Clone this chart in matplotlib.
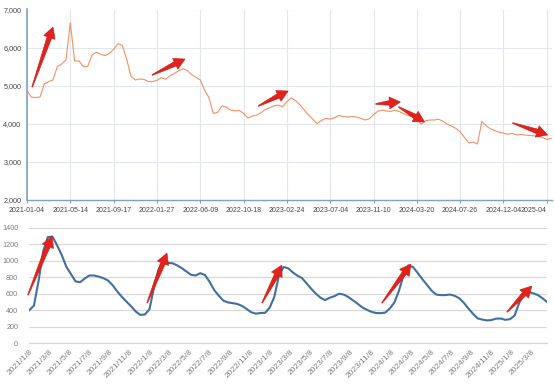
import numpy as np
import pandas as pd
import matplotlib
matplotlib.use("Agg")
import matplotlib.pyplot as plt
import matplotlib.dates as mdates
from matplotlib.patches import Polygon
from matplotlib.transforms import IdentityTransform

# top panel: price, one value every ~8-9 trading days, tick label every 10 points
price_ticks = ['2021-01-04', '2021-05-14', '2021-09-17', '2022-01-27', '2022-06-09',
               '2022-10-18', '2023-02-24', '2023-07-04', '2023-11-10', '2024-03-20',
               '2024-07-26', '2024-12-04', '2025-04']
price = [4870, 4700, 4690, 4700, 5050, 5105, 5150, 5500, 5570, 5675,
         6650, 5650, 5650, 5500, 5500, 5805, 5880, 5825, 5790, 5850,
         5955, 6100, 6060, 5700, 5250, 5150, 5175, 5165, 5110, 5105,
         5140, 5210, 5170, 5260, 5320, 5390, 5445, 5400, 5290, 5220,
         5150, 4880, 4690, 4275, 4300, 4470, 4440, 4360, 4340, 4350,
         4275, 4150, 4200, 4225, 4290, 4375, 4420, 4470, 4490, 4450,
         4580, 4680, 4610, 4500, 4360, 4230, 4120, 4005, 4090, 4140,
         4125, 4160, 4220, 4190, 4180, 4190, 4180, 4145, 4100, 4130,
         4240, 4330, 4360, 4335, 4325, 4360, 4320, 4260, 4220, 4185,
         4120, 3990, 4080, 4100, 4100, 4120, 4070, 3990, 3940, 3880,
         3790, 3640, 3500, 3520, 3470, 4060, 3950, 3865, 3820, 3780,
         3755, 3725, 3750, 3710, 3720, 3705, 3695, 3685, 3675, 3640,
         3590, 3620]
price_yticks = [2000, 3000, 4000, 5000, 6000, 7000]

# bottom panel: stock, one value every two weeks from 2021/1/8
stock_start = '2021-01-08'
stock = [400, 455, 755, 1114, 1290, 1295, 1190, 1073, 930, 840,
         750, 740, 785, 822, 822, 808, 790, 762, 705, 630,
         563, 505, 448, 385, 342, 347, 410, 685, 900, 995,
         975, 970, 945, 910, 870, 830, 822, 850, 828, 745,
         645, 575, 515, 494, 485, 475, 452, 415, 375, 357,
         365, 367, 430, 560, 820, 925, 910, 860, 820, 790,
         725, 660, 600, 552, 522, 551, 570, 600, 590, 560,
         520, 480, 435, 405, 380, 365, 363, 370, 420, 495,
         640, 835, 945, 925, 855, 780, 710, 640, 590, 583,
         583, 590, 575, 545, 490, 420, 355, 300, 285, 275,
         280, 297, 298, 282, 290, 335, 490, 590, 622, 605,
         585, 545, 500]
stock_ticks = ['2021/1/8', '2021/3/8', '2021/5/8', '2021/7/8', '2021/9/8', '2021/11/8',
               '2022/1/8', '2022/3/8', '2022/5/8', '2022/7/8', '2022/9/8', '2022/11/8',
               '2023/1/8', '2023/3/8', '2023/5/8', '2023/7/8', '2023/9/8', '2023/11/8',
               '2024/1/8', '2024/3/8', '2024/5/8', '2024/7/8', '2024/9/8', '2024/11/8',
               '2025/1/8', '2025/3/8']
stock_yticks = [0, 200, 400, 600, 800, 1000, 1200, 1400]

# red arrows (tail, tip) in data units
price_arrows = [((1.2, 4966), (6.0, 6540)), ((28.9, 5281), (36.5, 5700)),
                ((53.4, 4467), (60.3, 4861)), ((80.5, 4520), (86.2, 4572)),
                ((85.8, 4441), (91.8, 4047)), ((112.1, 4021), (120.2, 3706))]
stock_arrows = [((-4, 584), (69, 1302)), ((357, 487), (417, 1095)),
                ((705, 487), (765, 949)), ((1068, 487), (1156, 961)),
                ((1447, 377), (1522, 694))]

narrow = ['Liberation Sans Narrow', 'Liberation Sans', 'DejaVu Sans']


def red_arrow(fig, ax, tail, tip, head_len=11, head_w=6, shaft_w=2.4):
    p0 = ax.transData.transform(tail)
    p1 = ax.transData.transform(tip)
    d = p1 - p0
    u = d / np.hypot(*d)
    n = np.array([-u[1], u[0]])
    base = p1 - u * head_len
    pts = [p0 + n * 0.4, base + n * shaft_w, base + n * head_w, p1,
           base - n * head_w, base - n * shaft_w, p0 - n * 0.4]
    fig.add_artist(Polygon(pts, closed=True, transform=IdentityTransform(),
                           facecolor='#e3221b', edgecolor='#c81a14', lw=0.4, zorder=10))


fig = plt.figure(figsize=(5.54, 3.85), dpi=100)

# ---- top chart
ax1 = fig.add_axes([27 / 554, 1 - 200 / 385, 525 / 554, 190.5 / 385])
x = np.arange(len(price))
ax1.plot(x, price, color='#f39061', lw=0.8)
ax1.set_xlim(0, len(price) - 0.8)
ax1.set_ylim(2000, 7000)
ax1.set_xticks(np.arange(len(price_ticks)) * 10)
ax1.set_xticklabels(price_ticks, fontsize=5, family=narrow, color='#444444')
ax1.get_xticklabels()[-1].set_horizontalalignment('right')
ax1.set_yticks(price_yticks)
ax1.set_yticklabels(['{:,}'.format(v) for v in price_yticks], fontsize=5.2,
                    family=narrow, color='#444444')
ax1.grid(True, color='#e3e6ea', lw=0.8)
ax1.set_axisbelow(True)
for s in ['top', 'right']:
    ax1.spines[s].set_visible(False)
ax1.spines['left'].set_color('#7fa3c0')
ax1.spines['left'].set_linewidth(1.2)
ax1.spines['bottom'].set_color('#7fa3c0')
ax1.spines['bottom'].set_linewidth(1.0)
ax1.tick_params(axis='x', length=2, pad=3, color='#7fa3c0')
ax1.tick_params(axis='y', length=0, pad=4)

# ---- bottom chart
dates = pd.date_range(stock_start, periods=len(stock), freq='14D')
ax2 = fig.add_axes([29.3 / 554, 1 - 343 / 385, 517.7 / 554, 115 / 385])
ax2.plot(dates, stock, color='#41709e', lw=1.5)
ax2.set_xlim(dates[0], dates[-1])
ax2.set_ylim(0, 1400)
ax2.set_yticks(stock_yticks)
ax2.set_yticklabels([str(v) for v in stock_yticks], fontsize=5.2,
                    family=['Liberation Sans', 'DejaVu Sans'], color='#7f7f7f')
tick_dates = pd.to_datetime(stock_ticks, format='%Y/%m/%d')
ax2.set_xticks(tick_dates)
ax2.set_xticklabels(stock_ticks, rotation=45, ha='right', rotation_mode='anchor',
                    fontsize=6, family=['Liberation Sans', 'DejaVu Sans'], color='#7f7f7f')
ax2.yaxis.grid(True, color='#d9d9d9', lw=0.9)
ax2.set_axisbelow(True)
for s in ['top', 'right', 'left']:
    ax2.spines[s].set_visible(False)
ax2.spines['bottom'].set_color('#d9d9d9')
ax2.spines['bottom'].set_linewidth(0.9)
ax2.tick_params(axis='both', length=0)
ax2.tick_params(axis='y', pad=8)
ax2.tick_params(axis='x', pad=4)

for tail, tip in price_arrows:
    red_arrow(fig, ax1, tail, tip)
t0 = pd.Timestamp(stock_start)
for (d0, v0), (d1, v1) in stock_arrows:
    tail = (mdates.date2num(t0 + pd.Timedelta(days=d0)), v0)
    tip = (mdates.date2num(t0 + pd.Timedelta(days=d1)), v1)
    red_arrow(fig, ax2, tail, tip)

fig.savefig('out.png', dpi=100)
